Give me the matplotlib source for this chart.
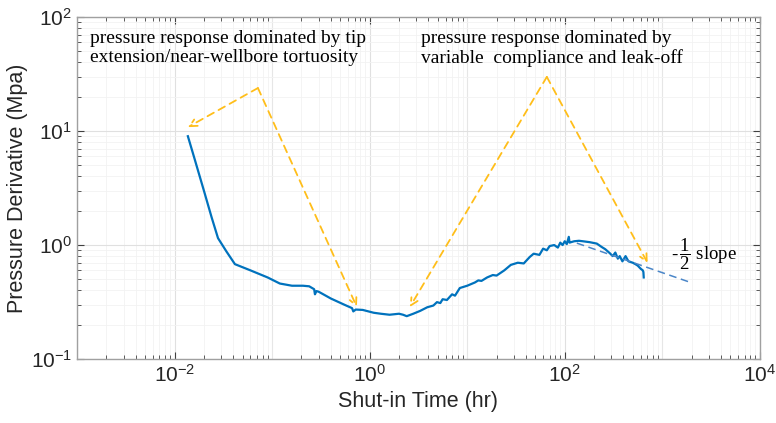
import matplotlib
matplotlib.use('Agg')
import matplotlib.pyplot as plt
from matplotlib.ticker import LogLocator, NullFormatter

plt.rcParams['font.family'] = ['Liberation Sans', 'DejaVu Sans']
plt.rcParams['mathtext.fontset'] = 'custom'
plt.rcParams['mathtext.rm'] = 'Liberation Serif'
plt.rcParams['mathtext.it'] = 'Liberation Serif:italic'

# Shut-in time (hr) and pressure derivative (MPa)
time_hr = [0.0137, 0.016, 0.02, 0.024, 0.0279, 0.034, 0.0416, 0.06, 0.09, 0.12,
           0.16, 0.207, 0.24, 0.27, 0.275, 0.285, 0.30, 0.4, 0.55, 0.66,
           0.68, 0.72, 0.85, 0.94, 1.1, 1.3, 1.6, 2.0, 2.2, 2.4,
           2.8, 3.3, 3.9, 4.5, 4.9, 5.3, 5.6, 6.2, 7.0, 7.5,
           8.4, 10, 12, 13, 14, 16, 18.3, 20, 24, 28,
           33, 38, 43.7, 48, 55, 60, 65.5, 70, 78, 85,
           90, 95, 100, 105, 110, 112, 116, 125, 140, 153,
           180, 213, 240, 260, 289, 310, 330, 350, 366, 390,
           420, 450, 498, 530, 560, 600, 631, 640, 645]
deriv = [9.0, 5.75, 3.0, 1.75, 1.15, 0.88, 0.68, 0.6, 0.52, 0.46,
         0.44, 0.44, 0.435, 0.41, 0.37, 0.395, 0.39, 0.34, 0.30, 0.28,
         0.262, 0.272, 0.27, 0.264, 0.255, 0.25, 0.245, 0.25, 0.245, 0.238,
         0.25, 0.265, 0.285, 0.295, 0.316, 0.31, 0.335, 0.33, 0.37, 0.36,
         0.42, 0.44, 0.47, 0.49, 0.485, 0.52, 0.546, 0.54, 0.6, 0.67,
         0.70, 0.69, 0.785, 0.84, 0.82, 0.93, 0.90, 0.98, 1.0, 0.95,
         1.05, 1.0, 1.08, 1.02, 1.18, 1.05, 1.06, 1.08, 1.09, 1.08,
         1.06, 1.03, 0.96, 0.92, 0.85, 0.80, 0.86, 0.76, 0.80, 0.72,
         0.80, 0.72, 0.70, 0.68, 0.66, 0.62, 0.60, 0.58, 0.52]

# -1/2 slope guide
slope_t = [133, 1910]
slope_d = [1.04, 0.473]

# annotation arrows: apex, then two heads
arrow1_apex = (0.0716, 23.8)
arrow1_heads = [(0.0137, 10.8), (0.74, 0.286)]
arrow2_apex = (65.5, 29.8)
arrow2_heads = [(2.58, 0.286), (708, 0.695)]

blue = '#0072BD'
orange = '#FFBE1A'

fig = plt.figure(figsize=(7.76, 4.23), dpi=100)
ax = fig.add_axes([0.0992, 0.151, 0.880, 0.809])
ax.set_xscale('log')
ax.set_yscale('log')
ax.set_xlim(1e-3, 1e4)
ax.set_ylim(0.1, 100)

ax.plot(time_hr, deriv, color=blue, lw=1.6)
ax.plot(slope_t, slope_d, color='#4A86C8', lw=1.1, ls=(0, (5, 3)))

for apex, heads in [(arrow1_apex, arrow1_heads), (arrow2_apex, arrow2_heads)]:
    for h in heads:
        ax.annotate('', xy=h, xytext=apex,
                    arrowprops=dict(arrowstyle='->', color=orange, lw=1.3,
                                    ls=(0, (4, 3)), shrinkA=0, shrinkB=0,
                                    mutation_scale=13))

ax.text(0.019, 0.962, 'pressure response dominated by tip\nextension/near-wellbore tortuosity',
        transform=ax.transAxes, family='Liberation Serif', fontsize=14,
        va='top', ha='left', linespacing=1.15)
ax.text(0.504, 0.962, 'pressure response dominated by\nvariable  compliance and leak-off',
        transform=ax.transAxes, family='Liberation Serif', fontsize=14,
        va='top', ha='left', linespacing=1.15)
ax.text(0.870, 0.307, r'-$\,\dfrac{1}{2}$ slope', transform=ax.transAxes,
        family='Liberation Serif', fontsize=13.5, va='center', ha='left')

ax.set_xticks([1e-2, 1e0, 1e2, 1e4])
ax.xaxis.set_minor_locator(LogLocator(base=10, subs=range(2, 10), numticks=20))
ax.xaxis.set_minor_formatter(NullFormatter())
ax.yaxis.set_minor_locator(LogLocator(base=10, subs=range(2, 10), numticks=20))
ax.yaxis.set_minor_formatter(NullFormatter())

# grid on every decade plus minor lines
for xv in [1e-3, 1e-1, 1e1, 1e3]:
    ax.axvline(xv, color='#E6E6E6', lw=0.8, zorder=0)
ax.grid(True, which='major', color='#E0E0E0', lw=0.8)
ax.grid(True, which='minor', color='#F2F2F2', lw=0.6)
ax.set_axisbelow(True)

ax.tick_params(which='both', direction='in', top=True, right=True, colors='#404040',
               labelcolor='#262626')
ax.tick_params(which='major', length=5, width=0.8, labelsize=15)
ax.tick_params(which='minor', length=3, width=0.6)
for s in ax.spines.values():
    s.set_color('#A0A0A0')
    s.set_linewidth(1.0)

ax.set_xlabel('Shut-in Time (hr)', fontsize=15.5, color='#262626', labelpad=4)
ax.set_ylabel('Pressure Derivative (Mpa)', fontsize=15.5, color='#262626', labelpad=2)

fig.savefig('out.png', dpi=100)
